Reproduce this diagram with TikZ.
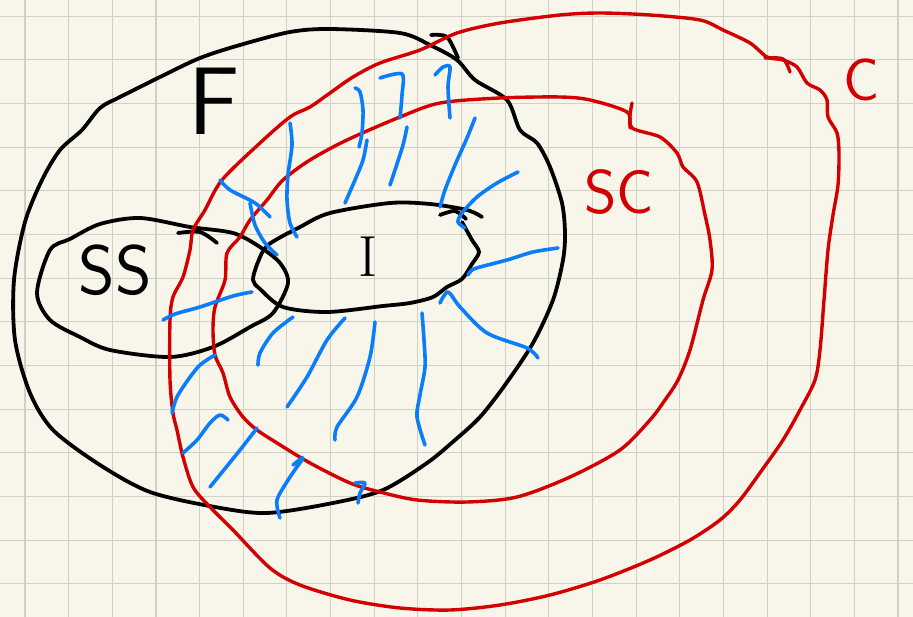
\documentclass[tikz,border=0pt]{standalone}
\usepackage{tikz}
\definecolor{paper}{RGB}{248,246,234}
\definecolor{gridgray}{RGB}{208,208,196}
\definecolor{penred}{RGB}{210,0,0}
\definecolor{penblue}{RGB}{10,125,250}

\begin{document}
\begin{tikzpicture}[
        x=1pt, y=-1pt,
        line cap=round, line join=round,
        rule/.style={gridgray, line width=1.1pt},
        pen/.style={line width=3.8pt},
        blackpen/.style={pen, black},
        redpen/.style={pen, penred, line width=3.4pt},
        bluepen/.style={pen, penblue, line width=3.6pt},
        letter/.style={inner sep=0pt, font=\sffamily\fontsize{#1}{#1}\selectfont}
      ]
      \useasboundingbox (0,0) rectangle (913,617);
      \fill[paper] (0,0) rectangle (913,617);
      % squared paper
      \foreach \i in {0,...,20}
        \draw[rule] ({25+43.65*\i},0) -- ({25+43.65*\i},617);
      \foreach \j in {0,...,13}
        \draw[rule] (0,{16.3+43.65*\j}) -- (913,{16.3+43.65*\j});

      % F
      \draw[blackpen] plot[smooth cycle] coordinates {(240,45) (200,58) (160,77) (120,97) (100,108)
        (82,130) (60,150) (42,180) (25,222) (14,280) (15,340) (30,393) (53,430) (100,465)
        (150,492) (215,507) (267,513) (333,503) (383,490) (427,463) (455,440) (480,417)
        (505,385) (533,343) (553,300) (563,260) (565,233) (562,203) (550,167) (537,143)
        (520,130) (507,100) (475,80) (457,60) (430,45) (400,33) (330,29) (290,32)};
      \draw[blackpen] plot[smooth] coordinates {(431,35) (447,37) (458,58)};
      % SS
      \draw[blackpen] plot[smooth cycle] coordinates {(140,218) (190,227) (233,233) (260,247)
        (280,263) (288,283) (273,313) (250,327) (213,347) (170,357) (110,350) (80,337)
        (50,320) (37,293) (50,250) (70,239) (100,224)};
      \draw[blackpen] plot[smooth] coordinates {(178,233) (200,232) (217,243)};
      % I
      \draw[blackpen] plot[smooth] coordinates {(482,217) (467,210) (430,204) (390,203)
        (330,213) (300,227) (268,245) (258,262) (253,280) (260,289) (283,307) (327,312)
        (383,306) (410,303) (433,297) (447,287) (462,279) (472,264) (479,252) (472,240)
        (462,222)};
      \draw[blackpen] plot[smooth] coordinates {(440,215) (455,211) (466,219)};

      % SC
      \draw[redpen] plot[smooth cycle] coordinates {(627,112) (590,100) (560,97) (500,98)
        (440,103) (400,117) (347,140) (310,160) (283,180) (267,200) (250,220) (240,237)
        (227,253) (225,280) (215,307) (213,330) (215,355) (223,373) (230,397) (243,417)
        (257,430) (277,443) (310,463) (350,483) (380,492) (417,500) (467,502) (517,497)
        (570,477) (620,450) (650,420) (665,400) (678,380) (690,350) (703,300) (712,270)
        (710,240) (705,215) (697,182) (683,167) (677,153) (660,137) (632,128)};
      \draw[redpen] plot[smooth] coordinates {(632,103) (630,115) (630,128)};
      % C
      \draw[redpen] plot[smooth cycle] coordinates {(783,60) (767,57) (750,43) (723,30)
        (700,20) (650,15) (600,13) (560,15) (500,23) (457,33) (420,50) (380,63) (353,77)
        (330,93) (310,107) (290,117) (260,143) (222,180) (205,210) (193,230) (190,250)
        (183,277) (173,297) (170,320) (170,380) (173,413) (177,430) (183,457) (193,487)
        (210,507) (233,530) (270,568) (300,585) (350,600) (400,608) (450,610) (500,605)
        (550,595) (600,580) (650,560) (690,540) (720,520) (740,500) (762,470) (783,440)
        (800,410) (815,380) (820,350) (824,300) (828,250) (833,215) (838,185) (839,153)
        (837,133) (828,117) (827,100) (820,90) (807,83) (797,67)};
      \draw[redpen] plot[smooth] coordinates {(765,58) (783,59) (790,72)};

      % hatching between I and SC
      \draw[bluepen] plot[smooth] coordinates {(290,123) (292,145) (288,175) (287,200) (290,223) (297,237)};
      \draw[bluepen] plot[smooth] coordinates {(355,88) (360,92) (363,110) (362,133) (359,147)};
      \draw[bluepen] plot[smooth] coordinates {(380,78) (402,74) (402,95) (400,118)};
      \draw[bluepen] plot[smooth] coordinates {(435,75) (443,67) (450,67) (448,87) (450,118)};
      \draw[bluepen] plot[smooth] coordinates {(367,140) (363,160) (355,180) (345,203)};
      \draw[bluepen] plot[smooth] coordinates {(407,127) (403,145) (395,170) (390,185)};
      \draw[bluepen] plot[smooth] coordinates {(475,118) (467,138) (455,165) (445,190) (440,207)};
      \draw[bluepen] plot[smooth] coordinates {(518,172) (497,183) (477,197) (462,213) (458,222) (465,228)};
      \draw[bluepen] plot[smooth] coordinates {(558,248) (533,252) (507,260) (480,267) (472,270) (468,275)};
      \draw[bluepen] plot[smooth] coordinates {(440,303) (448,292) (460,307) (487,333) (527,348) (538,358)};
      \draw[bluepen] plot[smooth] coordinates {(422,313) (424,340) (425,367) (420,395) (417,417) (425,445)};
      \draw[bluepen] plot[smooth] coordinates {(375,322) (370,357) (357,397) (337,427) (335,440)};
      \draw[bluepen] plot[smooth] coordinates {(345,318) (327,340) (307,377) (287,407)};
      \draw[bluepen] plot[smooth] coordinates {(293,317) (273,333) (260,353) (258,365)};
      \draw[bluepen] plot[smooth] coordinates {(215,355) (198,367) (178,395) (172,413)};
      \draw[bluepen] plot[smooth] coordinates {(228,420) (220,415) (210,423) (197,440) (183,453)};
      \draw[bluepen] plot[smooth] coordinates {(257,428) (240,450) (210,487)};
      \draw[bluepen] plot[smooth] coordinates {(293,465) (303,458) (290,477) (277,500) (280,518)};
      \draw[bluepen] plot[smooth] coordinates {(355,483) (365,483) (360,493) (358,503)};
      \draw[bluepen] plot[smooth] coordinates {(163,320) (175,314) (200,307) (233,296) (252,292)};
      \draw[bluepen] plot[smooth] coordinates {(220,180) (230,190) (255,203) (270,217)};
      \draw[bluepen] plot[smooth] coordinates {(250,203) (255,225) (265,243) (277,255)};

      % names of the sets
      \node[letter=96] (F) at (214,101) {F};
      \node[letter=70] (SS) at (115,270) {SS};
      \node[letter=58, font=\rmfamily\fontsize{58}{58}\selectfont] (I) at (368,257) {I};
      \node[letter=62, text=penred] (SC) at (619,192) {SC};
      \node[letter=60, text=penred] (C) at (862,80) {C};
    \end{tikzpicture}
\end{document}
